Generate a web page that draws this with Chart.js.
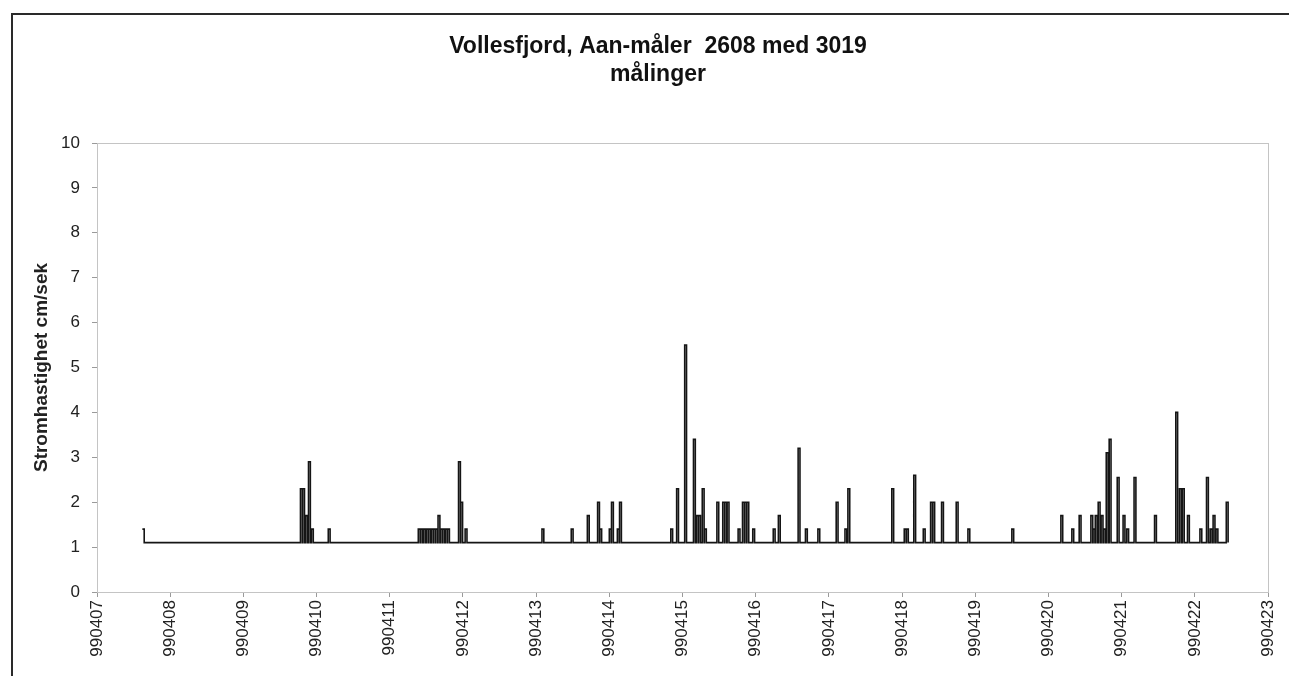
<!DOCTYPE html>
<html>
<head>
<meta charset="utf-8">
<script src="https://cdn.jsdelivr.net/npm/chart.js@4.4.1/dist/chart.umd.min.js"></script>
<style>
  html, body { margin: 0; padding: 0; background: #ffffff; overflow: hidden; }
  #frame {
    position: absolute; left: 11px; top: 13px;
    width: 1276px; height: 661px;
    border-left: 2px solid #2a2a2a; border-top: 2px solid #2a2a2a;
    background: #ffffff;
  }
  canvas { display: block; }
</style>
</head>
<body>
<div id="frame"><canvas id="c" width="1276" height="661"></canvas></div>
<script>
// ---- data ----
const titleLines = ['Vollesfjord, Aan-måler  2608 med 3019', 'målinger'];
const yAxisTitle = 'Stromhastighet cm/sek';
const xTickLabels = ['990407','990408','990409','990410','990411','990412','990413','990414',
  '990415','990416','990417','990418','990419','990420','990421','990422','990423'];
const yTickValues = [0,1,2,3,4,5,6,7,8,9,10];
const baselineValue = 1.1;            // resting level of the current meter (cm/s)
// peaks above the baseline: day of April 1999 (fractional) and speed (cm/s)
const spikeDays = [
  7.62,
  9.78, 9.81, 9.85, 9.89, 9.93, 10.16,
  11.39, 11.42, 11.46, 11.50, 11.53, 11.57, 11.60, 11.63, 11.66, 11.69, 11.72, 11.76, 11.79,
  11.94, 11.97, 12.03,
  13.08, 13.48, 13.70, 13.84, 13.87, 14.00, 14.03, 14.11, 14.14,
  14.84, 14.92, 15.03, 15.15, 15.19, 15.22, 15.27, 15.30,
  15.47, 15.55, 15.58, 15.61, 15.76, 15.82, 15.85, 15.88, 15.96,
  16.24, 16.31, 16.58, 16.68, 16.85, 17.10, 17.22, 17.26,
  17.86, 18.03, 18.06, 18.16, 18.29, 18.39, 18.42, 18.54, 18.74, 18.90,
  19.50,
  20.17, 20.32, 20.42, 20.58, 20.61, 20.64, 20.68, 20.72, 20.75, 20.79, 20.83, 20.94,
  21.02, 21.07, 21.17, 21.45, 21.74, 21.79, 21.83, 21.90,
  22.07, 22.16, 22.21, 22.25, 22.29, 22.43
];
const spikeValues = [
  1.4,
  2.3, 2.3, 1.7, 2.9, 1.4, 1.4,
  1.4, 1.4, 1.4, 1.4, 1.4, 1.4, 1.4, 1.4, 1.7, 1.4, 1.4, 1.4, 1.4,
  2.9, 2.0, 1.4,
  1.4, 1.4, 1.7, 2.0, 1.4, 1.4, 2.0, 1.4, 2.0,
  1.4, 2.3, 5.5, 3.4, 1.7, 1.7, 2.3, 1.4,
  2.0, 2.0, 2.0, 2.0, 1.4, 2.0, 2.0, 2.0, 1.4,
  1.4, 1.7, 3.2, 1.4, 1.4, 2.0, 1.4, 2.3,
  2.3, 1.4, 1.4, 2.6, 1.4, 2.0, 2.0, 2.0, 2.0, 1.4,
  1.4,
  1.7, 1.4, 1.7, 1.7, 1.4, 1.7, 2.0, 1.7, 1.4, 3.1, 3.4, 2.55,
  1.7, 1.4, 2.55, 1.7, 4.0, 2.3, 2.3, 1.7,
  1.4, 2.55, 1.4, 1.7, 1.4, 2.0
];

// ---- build the step series from the arrays ----
const BLOCK = 0.025; // duration of one raised reading, in days
const points = [];
for (let i = 0; i < spikeDays.length; i++) {
  const d = spikeDays[i];
  const next = i + 1 < spikeDays.length ? spikeDays[i + 1] : Infinity;
  points.push({ x: d, y: spikeValues[i] });
  points.push({ x: Math.min(d + BLOCK, next - 0.004), y: baselineValue });
}

const FONT = "'Liberation Sans', Arial, sans-serif";

const plotBorder = {
  id: 'plotBorder',
  beforeDatasetsDraw(chart) {
    const { ctx, chartArea: a } = chart;
    ctx.save();
    ctx.strokeStyle = '#c4c4c4';
    ctx.lineWidth = 1;
    ctx.strokeRect(a.left + 0.5, a.top + 0.5, a.right - a.left, a.bottom - a.top);
    ctx.restore();
  }
};

// chart title, drawn as canvas text (centred like the Excel chart title)
const chartTitle = {
  id: 'chartTitle',
  afterDraw(chart) {
    const { ctx } = chart;
    ctx.save();
    ctx.fillStyle = '#111';
    ctx.font = `bold 23px ${FONT}`;
    ctx.textAlign = 'center';
    ctx.textBaseline = 'middle';
    titleLines.forEach((t, i) => ctx.fillText(t, 645, 32 + i * 28));
    ctx.restore();
  }
};

new Chart(document.getElementById('c'), {
  type: 'line',
  data: {
    datasets: [{
      data: points,
      borderColor: '#151515',
      borderWidth: 1.6,
      pointRadius: 0,
      stepped: true,
      fill: false,
      tension: 0
    }]
  },
  options: {
    responsive: false,
    animation: false,
    devicePixelRatio: 1,
    layout: { padding: { left: 0, right: 21, top: 128, bottom: 0 } },
    plugins: {
      legend: { display: false },
      tooltip: { enabled: false },
      title: { display: false }
    },
    scales: {
      x: {
        type: 'linear',
        min: 7, max: 23,
        afterFit(scale) { scale.height = 84; scale.paddingRight = 0; scale.paddingLeft = 0; },
        border: { display: true, color: '#9a9a9a', width: 1 },
        grid: { drawOnChartArea: false, drawTicks: true, tickLength: 5, color: '#9a9a9a' },
        ticks: {
          stepSize: 1, autoSkip: false, minRotation: 90, maxRotation: 90, padding: 3,
          color: '#222', font: { family: FONT, size: 17 },
          callback: (v) => xTickLabels[Math.round(v) - 7]
        }
      },
      y: {
        min: 0, max: 10,
        afterFit(scale) { scale.width = 84; },
        border: { display: true, color: '#9a9a9a', width: 1 },
        grid: { drawOnChartArea: false, drawTicks: true, tickLength: 5, color: '#9a9a9a' },
        ticks: {
          stepSize: 1, padding: 12, color: '#222', font: { family: FONT, size: 17 },
          callback: (v) => (yTickValues.includes(v) ? String(v) : '')
        },
        title: {
          display: true, text: yAxisTitle, color: '#222',
          font: { family: FONT, size: 19, weight: 'bold' },
          padding: { top: 17, bottom: 0 }
        }
      }
    }
  },
  plugins: [plotBorder, chartTitle]
});
</script>
</body>
</html>
